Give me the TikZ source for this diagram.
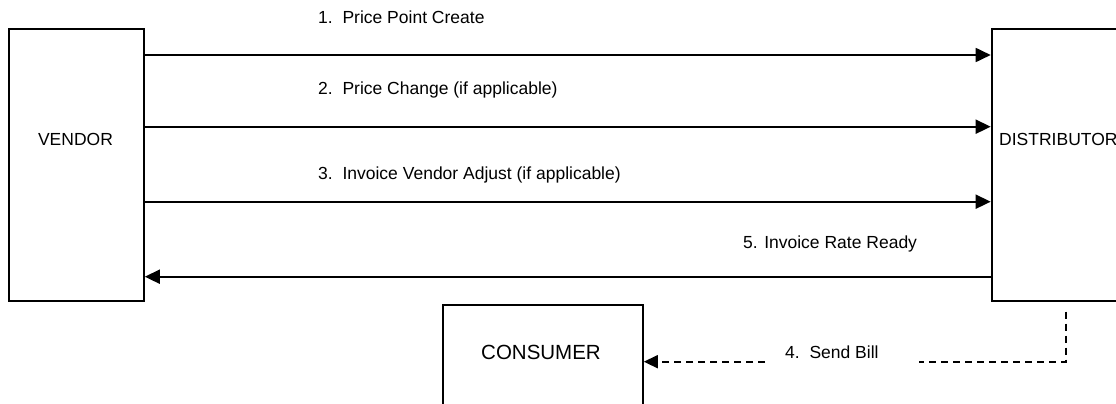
\documentclass[tikz,border=0pt]{standalone}
\usepackage{fontspec}
\setmainfont{Liberation Sans}
\usetikzlibrary{arrows.meta}
\tikzset{
  box/.style={draw=black, line width=1.8pt, fill=none, inner sep=0pt},
  txt/.style={font=\fontsize{17.5}{20}\selectfont, text=black, inner sep=0pt},
  bigtxt/.style={font=\fontsize{20.5}{24}\selectfont, text=black, inner sep=0pt},
  arr/.style={line width=1.8pt, -{Triangle[length=15pt,width=14pt]}},
  dasharr/.style={line width=1.6pt, dash pattern=on 7pt off 5pt, -{Triangle[length=14pt,width=13pt]}},
  dashline/.style={line width=1.6pt, dash pattern=on 7pt off 5pt}
}
\begin{document}
\begin{tikzpicture}[x=1pt, y=-1pt]
\clip (0,0) rectangle (1116,404);
\fill[white] (0,0) rectangle (1116,404);
% boxes
\node[box, minimum width=135pt, minimum height=272pt, anchor=north west] (vendor) at (8,28) {};
\node[box, minimum width=150pt, minimum height=272pt, anchor=north west] (dist) at (990.7,28) {};
\node[box, minimum width=200pt, minimum height=130pt, anchor=north west] (cons) at (442,304.3) {};
% box texts
\node[txt] (vendortxt) at (75.5,139) {VENDOR};
\node[txt, anchor=west] (disttxt) at (999,139) {DISTRIBUTOR};
\node[bigtxt] (constxt) at (541,352.5) {CONSUMER};
% arrows
\draw[arr] ([yshift=-27pt]vendor.north east) -- ([yshift=-27pt]dist.north west);
\draw[arr] ([yshift=-98.7pt]vendor.north east) -- ([yshift=-98.7pt]dist.north west);
\draw[arr] ([yshift=-173.7pt]vendor.north east) -- ([yshift=-173.7pt]dist.north west);
\draw[arr] ([yshift=-248.7pt]dist.north west) -- ([yshift=-248.7pt]vendor.north east);
% labels
\node[txt, anchor=base west] (l1) at (318,24) {1.\ \ Price Point Create};
\node[txt, anchor=base west] (l2) at (318,95) {2.\ \ Price Change (if applicable)};
\node[txt, anchor=base west] (l3) at (318,179.5) {3.\ \ Invoice Vendor Adjust (if applicable)};
\node[txt, anchor=base west] (l5) at (743,248) {5. Invoice Rate Ready};
\node[txt, anchor=base west] (l4) at (785,358.5) {4.\ \ Send Bill};
% dashed connector
\coordinate (d1) at (1065.7,311.7);
\coordinate (g1) at (919,361.7);
\coordinate (g2) at (765,361.7);
\draw[dashline] (d1) |- (g1);
\draw[dasharr] (g2) -- (cons.east |- g2);
\end{tikzpicture}
\end{document}
